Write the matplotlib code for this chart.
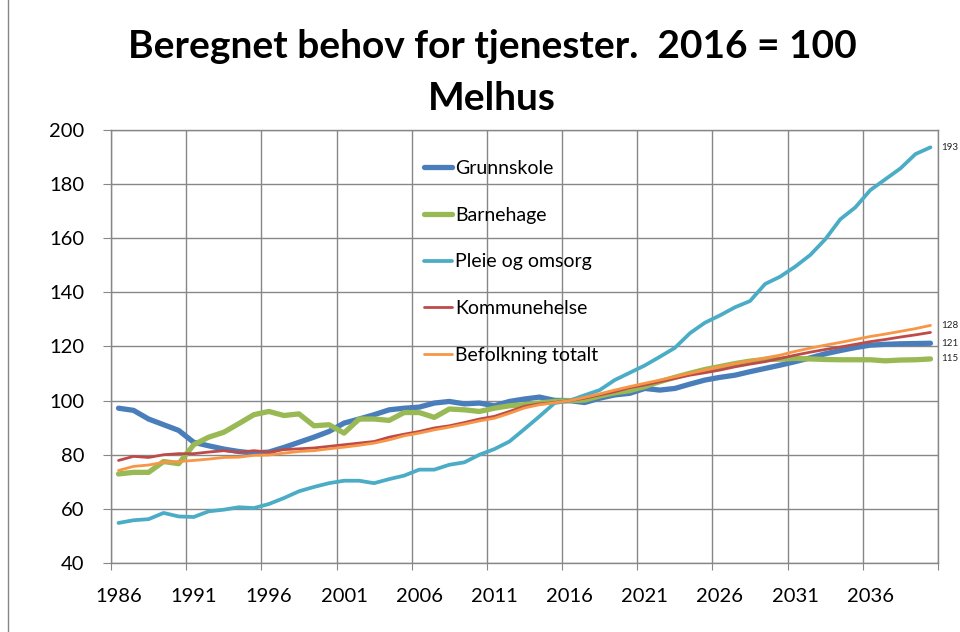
import matplotlib
matplotlib.use("Agg")
import matplotlib.pyplot as plt
import numpy as np

years = list(range(1986, 2041))

grunnskole = [97.2, 96.4, 93.2, 91.1, 89.0, 84.6, 83.3, 82.1, 81.2, 80.6,
              81.0, 82.7, 84.6, 86.5, 88.6, 91.7, 93.2, 94.8, 96.6, 97.2,
              97.6, 99.1, 99.7, 98.8, 99.1, 98.1, 99.7, 100.6, 101.3, 100.1,
              100.0, 99.3, 100.9, 102.1, 102.7, 104.5, 103.9, 104.5, 106.1, 107.6,
              108.6, 109.4, 110.7, 111.9, 113.1, 114.4, 115.8, 117.3, 118.5, 119.6,
              120.5, 120.8, 121.0, 121.1, 121.2]
barnehage = [72.9, 73.5, 73.5, 77.5, 76.7, 83.7, 86.5, 88.3, 91.5, 94.8,
             96.0, 94.5, 95.1, 90.7, 91.1, 88.0, 93.2, 93.2, 92.7, 95.6,
             95.6, 93.8, 96.9, 96.6, 96.0, 97.2, 98.1, 98.5, 99.1, 99.7,
             100.0, 100.2, 101.7, 102.9, 103.7, 105.2, 107.0, 108.6, 110.1, 111.5,
             112.6, 113.7, 114.6, 115.2, 115.3, 115.6, 115.4, 115.2, 115.1, 115.1,
             115.1, 114.7, 115.0, 115.1, 115.4]
pleie = [54.8, 55.8, 56.2, 58.5, 57.2, 57.0, 59.1, 59.7, 60.6, 60.3,
         61.8, 64.0, 66.5, 68.1, 69.5, 70.4, 70.4, 69.5, 71.0, 72.3,
         74.5, 74.5, 76.3, 77.2, 80.0, 82.1, 84.9, 89.5, 94.2, 99.1,
         100.0, 102.0, 103.9, 107.6, 110.3, 113.0, 116.2, 119.5, 124.9, 128.8,
         131.5, 134.5, 136.8, 143.1, 145.8, 149.5, 153.8, 159.6, 167.0, 171.4,
         177.8, 181.8, 185.8, 191.1, 193.6]
kommunehelse = [77.9, 79.4, 79.0, 80.0, 80.4, 80.4, 81.0, 81.5, 80.9, 81.5,
                81.0, 81.9, 82.2, 82.5, 83.1, 83.7, 84.3, 84.9, 86.5, 87.6,
                88.6, 89.9, 90.7, 91.9, 93.2, 94.2, 96.0, 97.9, 98.8, 99.3,
                100.0, 100.9, 102.1, 103.3, 104.8, 105.8, 107.0, 108.2, 109.4, 110.3,
                111.3, 112.5, 113.5, 114.4, 115.6, 116.8, 117.9, 118.9, 119.8, 120.8,
                121.8, 122.6, 123.5, 124.3, 125.2]
befolkning = [74.2, 75.7, 76.2, 77.2, 77.5, 77.9, 78.4, 79.0, 79.1, 79.8,
              79.9, 80.6, 81.2, 81.5, 82.2, 82.8, 83.5, 84.3, 85.5, 87.0,
              88.0, 89.2, 90.2, 91.3, 92.5, 93.5, 95.3, 97.3, 98.5, 99.2,
              100.0, 101.2, 102.5, 103.9, 105.2, 106.4, 107.6, 108.8, 110.1, 111.3,
              112.6, 113.7, 114.7, 115.8, 116.8, 118.2, 119.4, 120.5, 121.5, 122.6,
              123.7, 124.6, 125.6, 126.6, 127.8]

series_names = ["Grunnskole", "Barnehage", "Pleie og omsorg", "Kommunehelse", "Befolkning totalt"]
series_vals = [grunnskole, barnehage, pleie, kommunehelse, befolkning]
colors = ["#4A7EBB", "#98B954", "#4BACC6", "#BE4B48", "#F79646"]
widths = [3.8, 3.8, 2.7, 2.0, 2.0]
end_labels = ["121", "115", "193", None, "128"]

title_line1 = "Beregnet behov for tjenester.  2016 = 100"
title_line2 = "Melhus"

plt.rcParams['font.family'] = ['Lato', 'DejaVu Sans']

W, H = 960, 632
fig = plt.figure(figsize=(W / 100, H / 100), dpi=100)
ax = fig.add_axes([111 / W, 1 - 563 / H, (938 - 111) / W, (563 - 130) / H])

x = np.arange(len(years))
for name, vals, c, lw in zip(series_names, series_vals, colors, widths):
    ax.plot(x, vals, color=c, lw=lw, label=name, solid_capstyle='round', zorder=3)

for lab, vals in zip(end_labels, series_vals):
    if lab is None:
        continue
    ax.annotate(lab, xy=(x[-1], vals[-1]), xytext=(11, 0), textcoords='offset pixels',
                va='center', ha='left', fontsize=7, color='#222222',
                annotation_clip=False)

grid_c = "#878787"
ax.set_xlim(-0.5, len(years) - 0.5)
ax.set_ylim(40, 200)
ax.set_yticks(np.arange(40, 201, 20))
ax.set_xticks(np.arange(-0.5, len(years), 5))
ax.set_xticklabels([])
ax.set_xticks(np.arange(0, len(years) - 1, 5), minor=True)
ax.set_xticklabels([str(years[i]) for i in range(0, len(years) - 1, 5)], minor=True)
ax.tick_params(axis='x', which='major', length=5, color=grid_c, direction='out')
ax.tick_params(axis='x', which='minor', length=0, pad=18, labelsize=14.5)
ax.tick_params(axis='y', length=6, color=grid_c, direction='out', pad=13, labelsize=14.5)
ax.grid(True, which='major', color=grid_c, lw=1)
for s in ax.spines.values():
    s.set_color(grid_c)
    s.set_linewidth(1)

leg = ax.legend(loc='upper left', bbox_to_anchor=((424 - 111) / (938 - 111), 1 - (160 - 130) / (563 - 130)),
                frameon=False, fontsize=14, handlelength=1.45, handletextpad=0.15,
                labelspacing=1.53, borderaxespad=0, borderpad=0)

fig.text(492 / W, 1 - 47 / H, title_line1, ha='center', va='center',
         fontsize=28, fontweight='bold')
fig.text(492 / W, 1 - 98 / H, title_line2, ha='center', va='center',
         fontsize=28, fontweight='bold')

fig.add_artist(plt.Line2D([8 / W, 8 / W], [0, 1], color=grid_c, lw=1))

fig.savefig("out.png", dpi=100)
